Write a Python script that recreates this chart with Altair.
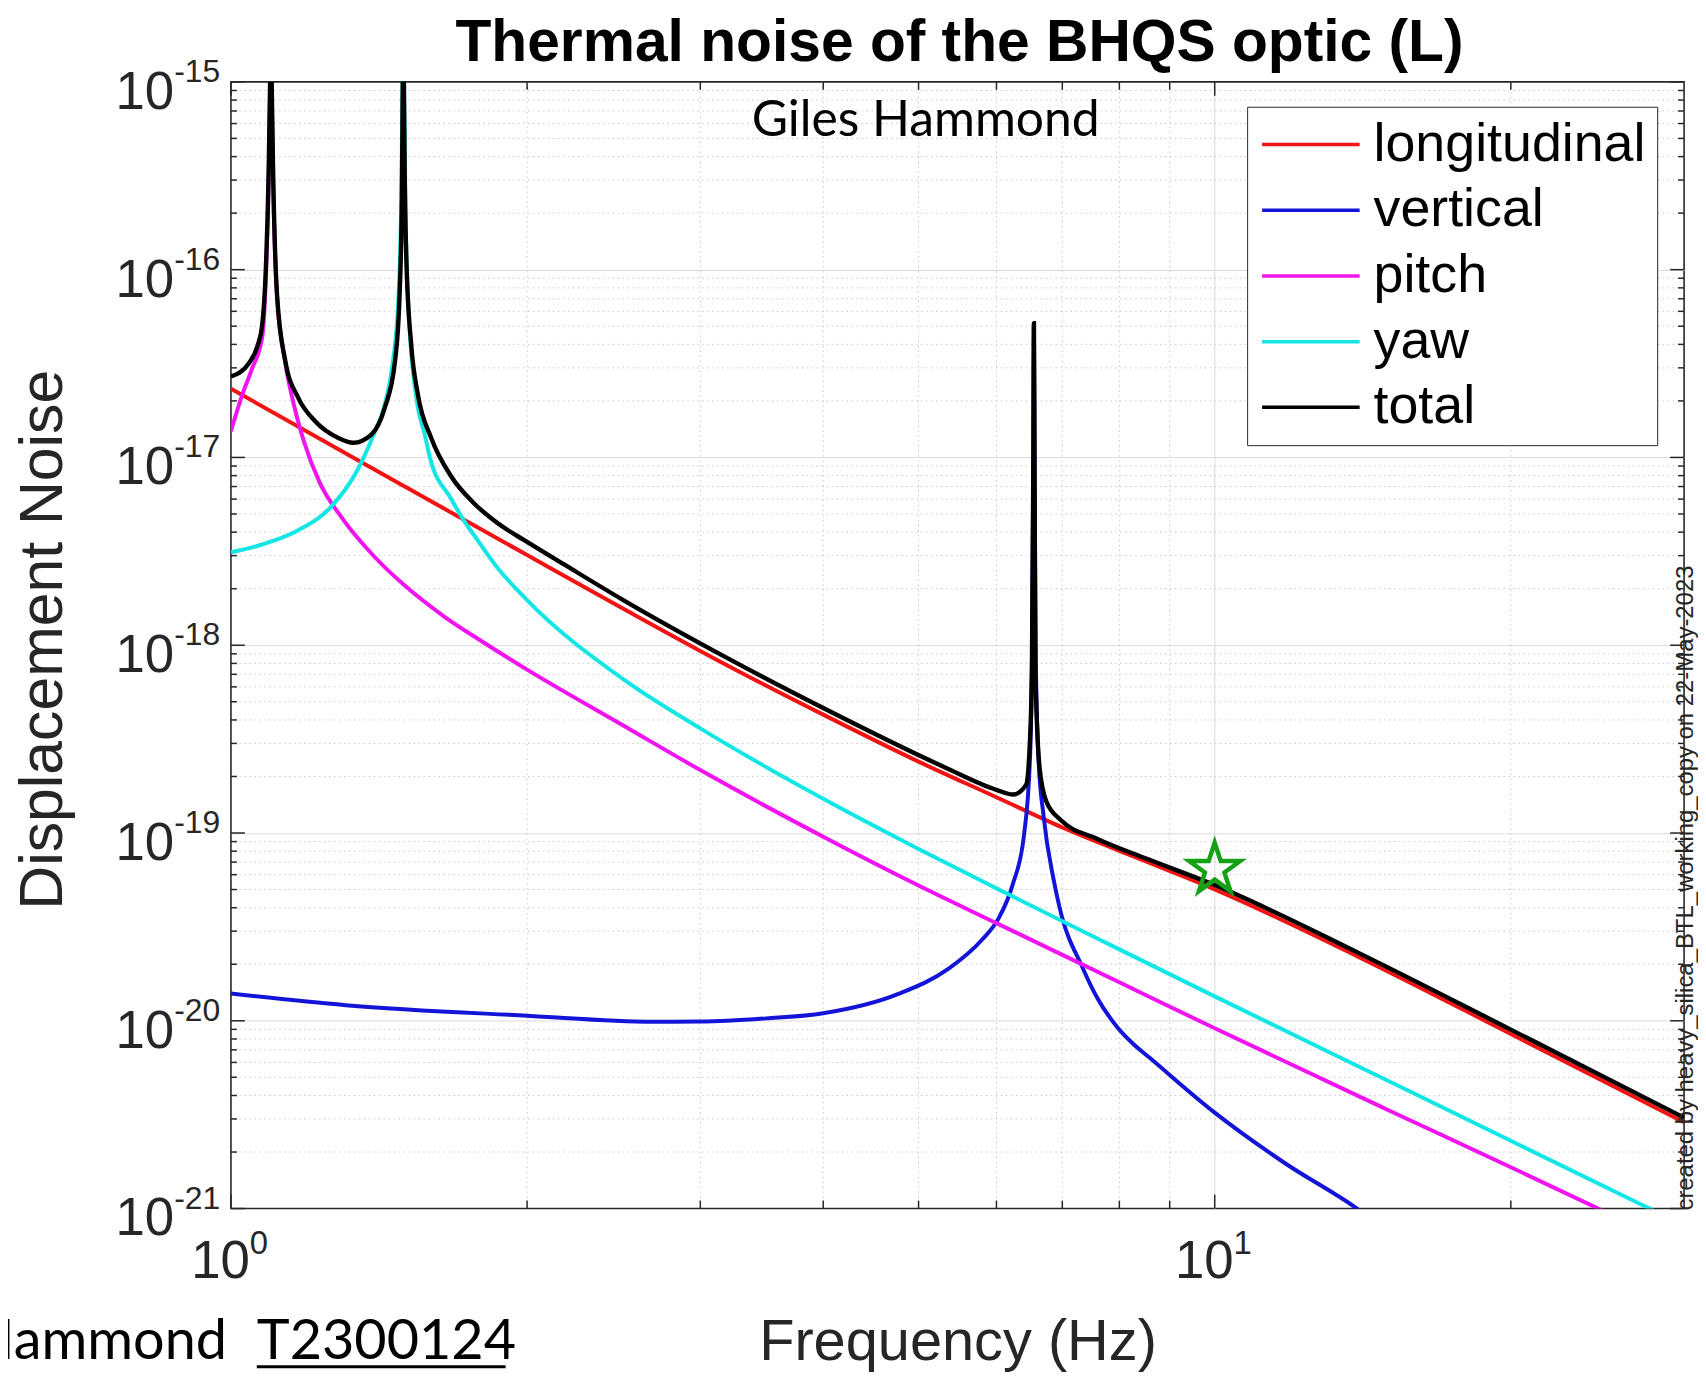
import altair as alt
import pandas as pd

FONT = "Liberation Sans"
HUM = "Lato"
AX = "#262626"

# ---------------- data ----------------
series_names = ["longitudinal", "vertical", "pitch", "yaw", "total"]
series_colors = ["#f01414", "#1414d8", "#f014f0", "#14e6e6", "#000000"]

long_f = [1.0, 1.5, 2.0, 2.5, 3.2, 4.0, 5.0, 6.0, 7.0, 8.5, 10.0, 14.0, 20.0, 30.0]
long_v = [2.323e-17, 7.03e-18, 3.02e-18, 1.574e-18, 7.78e-19, 4.27e-19, 2.40e-19,
          1.55e-19, 1.07e-19, 7.08e-20, 5.01e-20, 2.19e-20, 8.51e-21, 2.88e-21]

vert_f = [1.0, 1.308, 2.0, 2.68, 3.0, 3.5, 4.0, 4.77, 5.36, 5.80, 6.03, 6.23, 6.40,
          6.49, 6.52, 6.54, 6.55, 6.56, 6.58, 6.62, 6.70, 6.86, 6.95, 7.35, 7.6,
          7.95, 8.25, 8.6, 10.0, 11.8, 13.9, 14.3]
vert_v = [1.396e-20, 1.211e-20, 1.064e-20, 9.89e-21, 9.91e-21, 1.03e-20, 1.096e-20,
          1.39e-20, 1.888e-20, 2.70e-20, 3.51e-20, 5.28e-20, 9.77e-20, 2.51e-19,
          7.94e-19, 7.94e-18, 5.01e-17, 7.94e-18, 7.94e-19, 2.51e-19, 1.23e-19,
          5.62e-20, 4.08e-20, 1.888e-20, 1.318e-20, 9.33e-21, 7.59e-21, 6.31e-21,
          3.24e-21, 1.738e-21, 1.014e-21, 9.12e-22]

pitch_f = [1.0, 1.027, 1.051, 1.076, 1.085, 1.092, 1.096, 1.098, 1.100, 1.104,
           1.114, 1.136, 1.16, 1.186, 1.23, 1.3, 1.4, 1.5, 1.65, 1.8, 2.0, 2.5,
           3.0, 4.0, 5.0, 6.0, 8.0, 10.0, 15.0, 20.0, 25.0]
pitch_v = [1.380e-17, 2.158e-17, 2.985e-17, 4.365e-17, 8.91e-17, 2.82e-16, 8.91e-16,
           2.24e-15, 8.91e-16, 2.82e-16, 7.08e-17, 3.16e-17, 1.862e-17, 1.222e-17,
           7.41e-18, 4.68e-18, 2.95e-18, 2.09e-18, 1.413e-18, 1.047e-18, 7.41e-19,
           3.76e-19, 2.163e-19, 9.55e-20, 5.25e-20, 3.31e-20, 1.603e-20, 9.12e-21,
           3.35e-21, 1.66e-21, 9.55e-22]

yaw_f = [1.0, 1.08, 1.168, 1.262, 1.343, 1.396, 1.433, 1.46, 1.48, 1.490, 1.494,
         1.497, 1.500, 1.504, 1.515, 1.545, 1.574, 1.593, 1.674, 1.722, 1.781,
         1.861, 2.0, 2.5, 3.0, 4.0, 5.0, 6.0, 8.0, 10.0, 15.0, 20.0, 27.3, 28.0]
yaw_v = [3.126e-18, 3.459e-18, 4.07e-18, 5.41e-18, 8.47e-18, 1.318e-17, 1.905e-17,
         3.16e-17, 7.08e-17, 2.51e-16, 8.91e-16, 2.24e-15, 8.91e-16, 2.51e-16,
         6.31e-17, 2.00e-17, 1.324e-17, 1.00e-17, 6.03e-18, 4.68e-18, 3.63e-18,
         2.63e-18, 1.738e-18, 6.64e-19, 3.606e-19, 1.521e-19, 8.22e-20, 5.07e-20,
         2.40e-20, 1.349e-20, 4.79e-21, 2.296e-21, 1.035e-21, 9.70e-22]

total_f = [1.0, 1.043, 1.065, 1.0756, 1.085, 1.092, 1.096, 1.098, 1.100, 1.104,
           1.114, 1.136, 1.171, 1.218, 1.286, 1.331, 1.389, 1.433, 1.468, 1.484,
           1.492, 1.495, 1.497, 1.499, 1.502, 1.508, 1.525, 1.549, 1.598, 1.674,
           1.767, 1.866, 2.0, 2.2, 2.5, 3.2, 4.0, 5.32, 6.0, 6.24, 6.43, 6.49, 6.52,
           6.54, 6.55, 6.56, 6.57, 6.635, 6.74, 6.97, 7.59, 8.56, 10.0, 14.0,
           20.0, 30.0]
total_v = [2.698e-17, 3.177e-17, 3.98e-17, 5.01e-17, 1.00e-16, 3.16e-16, 1.00e-15,
           2.51e-15, 1.00e-15, 3.16e-16, 7.31e-17, 3.24e-17, 2.07e-17, 1.56e-17,
           1.27e-17, 1.197e-17, 1.324e-17, 1.832e-17, 3.24e-17, 7.31e-17, 2.51e-16,
           1.00e-15, 2.51e-15, 1.00e-15, 3.16e-16, 1.096e-16, 3.98e-17, 2.158e-17,
           1.27e-17, 7.94e-18, 5.69e-18, 4.47e-18, 3.55e-18, 2.618e-18, 1.750e-18,
           8.51e-19, 4.63e-19, 2.234e-19, 1.698e-19, 1.603e-19, 1.80e-19, 3.148e-19,
           8.04e-19, 8.32e-18, 5.19e-17, 8.32e-18, 8.04e-19, 2.27e-19, 1.479e-19,
           1.175e-19, 9.33e-20, 7.24e-20, 5.28e-20, 2.30e-20, 8.97e-21, 3.05e-21]

star_f = [10.0]
star_v = [6.4e-20]

x_major = [1, 10]
x_grid = [10]
x_minor = [2, 3, 4, 5, 6, 7, 8, 9, 20]
x_label_exp = ["0", "1"]
y_major = [1e-21, 1e-20, 1e-19, 1e-18, 1e-17, 1e-16, 1e-15]
y_grid = [1e-20, 1e-19, 1e-18, 1e-17, 1e-16]
y_label_exp = ["-21", "-20", "-19", "-18", "-17", "-16", "-15"]
y_minor_mult = [2, 3, 4, 5, 6, 7, 8, 9]
y_minor = [k * m for m in [1e-21, 1e-20, 1e-19, 1e-18, 1e-17, 1e-16] for k in y_minor_mult]

title_text = "Thermal noise of the BHQS optic (L)"
author_text = "Giles Hammond"
ref_name = "Hammond"
ref_doc = "T2300124"
side_note = "created by heavy_silica_BTL_working_copy on 22-May-2023"

W, H = 1460, 1132

# ---------------- tables ----------------
rows = []
for name, fs, vs in zip(series_names,
                        [long_f, vert_f, pitch_f, yaw_f, total_f],
                        [long_v, vert_v, pitch_v, yaw_v, total_v]):
    for i, (f, v) in enumerate(zip(fs, vs)):
        rows.append({"series": name, "f": f, "v": v, "i": i})
curves = pd.DataFrame(rows)

xs = alt.Scale(type="log", domain=[1, 30], nice=False)
ys = alt.Scale(type="log", domain=[1e-21, 1e-15], nice=False)

xaxis = alt.Axis(values=x_grid, grid=True, gridColor="#dadada", gridWidth=1,
                 labels=False, ticks=False, domain=False,
                 title="Frequency (Hz)", titleFont=FONT, titleFontSize=58,
                 titleFontWeight="normal", titleColor=AX, titleX=730, titleY=152,
                 titleBaseline="alphabetic", titleAlign="center")
yaxis = alt.Axis(values=y_grid, grid=True, gridColor="#dadada", gridWidth=1,
                 labels=False, ticks=False, domain=False,
                 title="Displacement Noise", titleFont=FONT, titleFontSize=61,
                 titleFontWeight="normal", titleColor=AX, titleAngle=270,
                 titleX=-170, titleY=560, titleBaseline="alphabetic",
                 titleAlign="center")


def X(field="f"):
    return alt.X(f"{field}:Q", scale=xs, axis=xaxis)


def Y(field="v"):
    return alt.Y(f"{field}:Q", scale=ys, axis=yaxis)


def note(text, **kw):
    return alt.Chart(pd.DataFrame({"t": [text]})).mark_text(**kw)


layers = []

# minor grid
layers.append(alt.Chart(pd.DataFrame({"f": x_minor})).mark_rule(
    color="#c8c8c8", strokeWidth=1, strokeDash=[1.5, 3.5]).encode(x=X()))
layers.append(alt.Chart(pd.DataFrame({"v": y_minor})).mark_rule(
    color="#c8c8c8", strokeWidth=1, strokeDash=[1.5, 3.5]).encode(y=Y()))

# curves
legend = alt.Legend(title=None, orient="none", legendX=1021, legendY=25,
                    symbolType="M-1.64,0L5.36,0", symbolSize=784,
                    symbolStrokeWidth=3.5, labelFont=FONT, labelFontSize=54,
                    labelColor="black", labelOffset=62, padding=11,
                    rowPadding=12, strokeColor=AX, fillColor="white",
                    labelLimit=2000, symbolOpacity=1)
color_enc = alt.Color("series:N",
                      scale=alt.Scale(domain=series_names, range=series_colors),
                      legend=legend)
for name in series_names:
    layers.append(alt.Chart(curves).transform_filter(alt.datum.series == name)
                  .mark_line(strokeWidth=4.4 if name == "total" else 4.0,
                             clip=True, interpolate="monotone")
                  .encode(x=X(), y=Y(), color=color_enc, order="i:Q"))

# star marker
STAR = ("M0,-1L0.2245,-0.309L0.951,-0.309L0.363,0.118L0.588,0.809L0,0.382"
        "L-0.588,0.809L-0.363,0.118L-0.951,-0.309L-0.2245,-0.309Z")
layers.append(alt.Chart(pd.DataFrame({"f": star_f, "v": star_v})).mark_point(
    shape=STAR, size=2900, filled=False, color="#16a016", strokeWidth=4.5,
    opacity=1).encode(x=X(), y=Y()))


# box ticks (inside)
def yticks(vals, x0, x1):
    return alt.Chart(pd.DataFrame({"v": vals})).mark_rule(
        color=AX, strokeWidth=1.5).encode(y=Y(), x=alt.value(x0), x2=alt.value(x1))


def xticks(vals, y0, y1):
    return alt.Chart(pd.DataFrame({"f": vals})).mark_rule(
        color=AX, strokeWidth=1.5).encode(x=X(), y=alt.value(y0), y2=alt.value(y1))


layers += [yticks(y_major, 0, 14), yticks(y_minor, 0, 6),
           yticks(y_major, W - 14, W), yticks(y_minor, W - 6, W),
           xticks(x_major, H - 14, H), xticks(x_minor, H - 8, H),
           xticks(x_major, 0, 14), xticks(x_minor, 0, 8)]

# tick labels 10^n
ylab = pd.DataFrame({"v": y_major, "base": ["10"] * len(y_major), "exp": y_label_exp})
layers.append(alt.Chart(ylab).mark_text(align="right", baseline="alphabetic",
              font=FONT, fontSize=53, color=AX, dy=27)
              .encode(y=Y(), x=alt.value(-57), text="base:N"))
layers.append(alt.Chart(ylab).mark_text(align="left", baseline="alphabetic",
              font=FONT, fontSize=32, color=AX)
              .encode(y=Y(), x=alt.value(-57), text="exp:N"))

xlab = pd.DataFrame({"f": x_major, "base": ["10"] * len(x_major), "exp": x_label_exp})
layers.append(alt.Chart(xlab).mark_text(align="right", baseline="alphabetic",
              font=FONT, fontSize=53, color=AX, dx=19)
              .encode(x=X(), y=alt.value(H + 70), text="base:N"))
layers.append(alt.Chart(xlab).mark_text(align="left", baseline="alphabetic",
              font=FONT, fontSize=33, color=AX, dx=19)
              .encode(x=X(), y=alt.value(H + 46), text="exp:N"))

# title and annotations
layers.append(note(title_text, font=FONT, fontSize=59, fontWeight="bold",
                   align="center", baseline="alphabetic", color="black")
              .encode(text="t:N", x=alt.value(732), y=alt.value(-21)))
layers.append(note(author_text, font=HUM, fontSize=50, align="center",
                   baseline="alphabetic", color="black")
              .encode(text="t:N", x=alt.value(698), y=alt.value(54)))
layers.append(note(ref_name, font=HUM, fontSize=56, align="right",
                   baseline="alphabetic", color="black")
              .encode(text="t:N", x=alt.value(-4), y=alt.value(1283)))
layers.append(note(ref_doc, font=HUM, fontSize=56, align="left",
                   baseline="alphabetic", color="black")
              .encode(text="t:N", x=alt.value(26), y=alt.value(1283)))
layers.append(alt.Chart(pd.DataFrame({"t": [ref_doc]})).mark_rule(
    color="black", strokeWidth=3).encode(x=alt.value(26), x2=alt.value(276),
                                         y=alt.value(1291)))
layers.append(note(side_note, font=FONT, fontSize=24, angle=270, align="left",
                   baseline="alphabetic", color=AX)
              .encode(text="t:N", x=alt.value(1469), y=alt.value(1134)))

chart = alt.layer(*layers).properties(
    width=W, height=H,
    autosize=alt.AutoSizeParams(type="none"),
    padding={"left": 224, "top": 71, "right": 14, "bottom": 164},
).configure_view(stroke=AX, strokeWidth=1.6)

chart.save("out.html", embed_options={"renderer": "svg", "actions": False})
